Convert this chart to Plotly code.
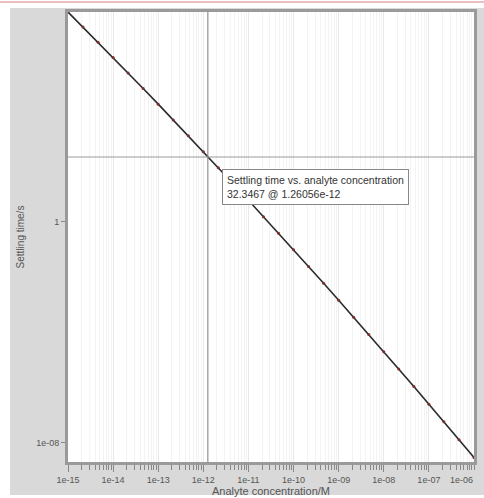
import math
import plotly.graph_objects as go

# Data
conc = [1e-15, 2.15e-15, 4.64e-15, 1e-14, 2.15e-14, 4.64e-14, 1e-13, 2.15e-13, 4.64e-13,
        1e-12, 2.15e-12, 4.64e-12, 1e-11, 2.15e-11, 4.64e-11, 1e-10, 2.15e-10, 4.64e-10,
        1e-09, 2.15e-09, 4.64e-09, 1e-08, 2.15e-08, 4.64e-08, 1e-07, 2.15e-07, 4.64e-07, 1e-06]
settling = [4.07e7, 1.156e7, 3.25e6, 9.06e5, 2.50e5, 6.85e4, 1.86e4, 5.00e3, 1.33e3,
            351, 91.9, 23.8, 6.12, 1.56, 0.393, 0.0982, 0.0243, 5.98e-3,
            1.455e-3, 3.51e-4, 8.38e-5, 1.99e-5, 4.66e-6, 1.08e-6, 2.49e-7, 5.70e-8, 1.29e-8, 2.88e-9]

cross_x = 1.26056e-12
cross_y = 226
tooltip_lines = ["Settling time vs. analyte concentration", "32.3467 @ 1.26056e-12"]

x_tickvals = [1e-15, 1e-14, 1e-13, 1e-12, 1e-11, 1e-10, 1e-09, 1e-08, 1e-07, 1e-06]
x_ticktext = ["1e-15", "1e-14", "1e-13", "1e-12", "1e-11", "1e-10", "1e-09", "1e-08", "1e-07", "1e-06"]
y_tickvals = [1, 1e-08]
y_ticktext = ["1", "1e-08"]

fig = go.Figure()
fig.add_trace(go.Scatter(
    x=conc, y=settling, mode="lines+markers",
    line=dict(color="#2a2a2a", width=1.6),
    marker=dict(size=3, color="#7a3030"),
    showlegend=False, hoverinfo="skip"))

# background gray panel
fig.add_shape(type="rect", xref="paper", yref="paper",
              x0=-0.1429, x1=1.0246, y0=-0.0733, y1=1.009,
              fillcolor="#d9d9d9", line=dict(width=0), layer="below")
# white plotting area
fig.add_shape(type="rect", xref="paper", yref="paper",
              x0=0, x1=1, y0=0, y1=1,
              fillcolor="white", line=dict(width=0), layer="below")
# pink top line
fig.add_shape(type="line", xref="paper", yref="paper",
              x0=-0.17, x1=1.03, y0=1.022, y1=1.022,
              line=dict(color="#e3aaaa", width=1.5))
# crosshair
fig.add_shape(type="line", xref="x", yref="paper", x0=cross_x, x1=cross_x, y0=0, y1=1,
              line=dict(color="#7a7a7a", width=1))
fig.add_shape(type="line", xref="paper", yref="y", x0=0, x1=1, y0=cross_y, y1=cross_y,
              line=dict(color="#9a9a9a", width=1))

fig.add_annotation(xref="paper", yref="paper", x=0.379, y=0.651,
                   xanchor="left", yanchor="top", showarrow=False, align="left",
                   text="<br>".join(tooltip_lines),
                   font=dict(family="Liberation Sans", size=10.5, color="#333"),
                   bgcolor="white", bordercolor="#888", borderwidth=1, borderpad=4)

tick_font = dict(family="Liberation Sans", size=9, color="#555")
title_font_x = dict(family="Liberation Sans", size=11, color="#555")
title_font_y = dict(family="Liberation Sans", size=10, color="#555")

# last x tick label, kept inside the page at the right edge
fig.add_annotation(xref="x", yref="paper", x=math.log10(x_tickvals[-1]), y=-0.026,
                   xanchor="right", yanchor="top", showarrow=False,
                   text=x_ticktext[-1], font=tick_font, borderpad=0)

fig.update_xaxes(type="log", range=[-15, -6], tickvals=x_tickvals[:-1], ticktext=x_ticktext[:-1],
                 ticks="outside", ticklen=7, tickcolor="#888",
                 showline=True, linecolor="#9a9a9a", linewidth=3, mirror=True,
                 showgrid=True, gridcolor="#e9e9e9", gridwidth=1,
                 minor=dict(ticks="outside", ticklen=5, tickcolor="#888",
                            showgrid=True, gridcolor="#f3f3f3", dtick="D1"),
                 tickfont=tick_font, automargin=False,
                 title=dict(text="Analyte concentration/M", font=title_font_x, standoff=0),
                 zeroline=False)
fig.update_yaxes(type="log", range=[-8.70, 7.61], tickvals=y_tickvals, ticktext=y_ticktext,
                 ticks="outside", ticklen=4, tickcolor="#888",
                 showline=True, linecolor="#9a9a9a", linewidth=3, mirror=True,
                 showgrid=False, tickfont=tick_font, automargin=False,
                 title=dict(text="Settling time/s", font=title_font_y, standoff=10),
                 zeroline=False)

fig.update_layout(width=484, height=498,
                  margin=dict(l=68, r=10, t=12, b=36),
                  paper_bgcolor="white", plot_bgcolor="white")

fig.write_html("out.html", config={"displayModeBar": False},
               post_script="document.body.style.margin='0';document.body.style.overflow='hidden';")
